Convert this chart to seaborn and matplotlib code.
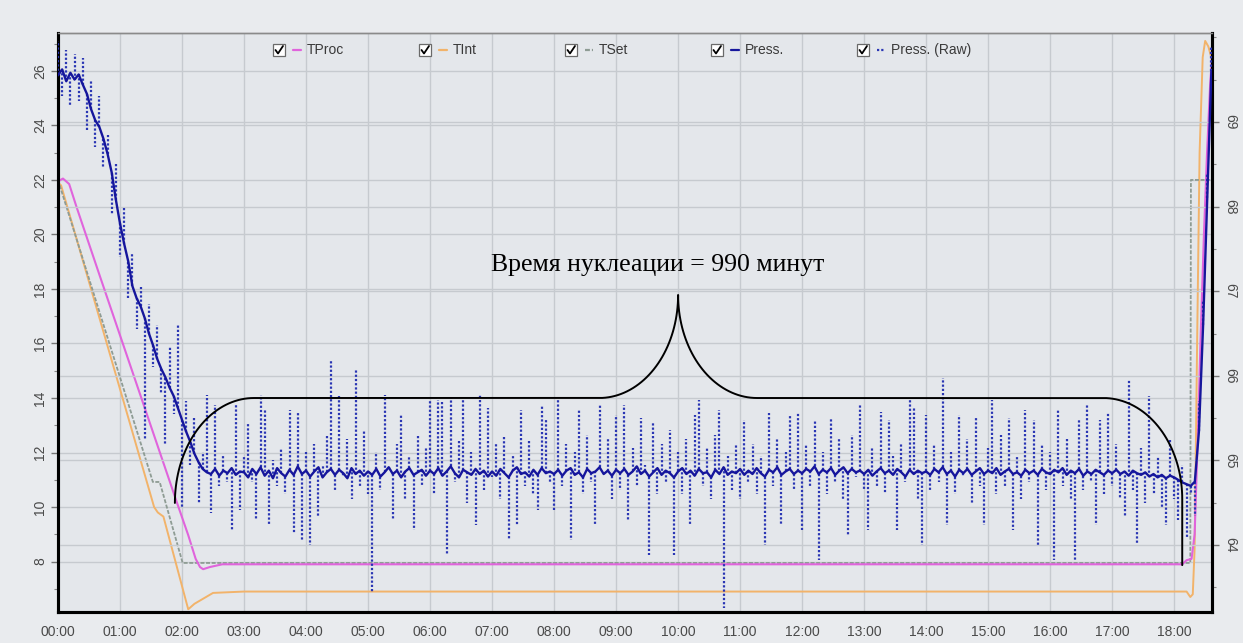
import numpy as np
import pandas as pd
import matplotlib
matplotlib.use("Agg")
import matplotlib.pyplot as plt
from matplotlib.lines import Line2D
from matplotlib.patches import Rectangle
from matplotlib.ticker import MultipleLocator, FixedLocator, FixedFormatter
import seaborn as sns

# ---------------------------------------------------------------- data
TIME_TICKS_H = list(range(0, 19))
TIME_LABELS = ["00:00", "01:00", "02:00", "03:00", "04:00", "05:00", "06:00",
               "07:00", "08:00", "09:00", "10:00", "11:00", "12:00", "13:00",
               "14:00", "15:00", "16:00", "17:00", "18:00"]
PRESS_TICKS = [64, 65, 66, 67, 68, 69]

# temperatures (left axis), break points of each trace: hours / value
TPROC_T = [0.0, 0.08, 0.18, 0.30, 0.68, 1.92, 2.10, 2.22, 2.29, 2.34, 2.45, 2.65,
           18.13, 18.20, 18.28, 18.33, 18.38, 18.43, 18.48, 18.53, 18.58, 18.61]
TPROC_V = [21.95, 22.05, 21.85, 21.0, 18.44, 10.15, 8.97, 8.1, 7.8, 7.72, 7.8, 7.9,
           7.9, 8.05, 8.1, 9.0, 12.5, 16.5, 20.0, 23.0, 25.5, 26.5]

TINT_T = [0.0, 0.05, 1.55, 1.61, 1.70, 2.10, 2.20, 2.50, 3.0, 18.20, 18.26, 18.30,
          18.33, 18.37, 18.41, 18.46, 18.50, 18.55, 18.61]
TINT_V = [21.9, 21.8, 10.0, 9.8, 9.65, 6.25, 6.45, 6.85, 6.9, 6.9, 6.7, 6.8,
          8.5, 16.0, 23.0, 26.5, 27.1, 26.9, 26.4]

TSET_T = [0.0, 1.53, 1.64, 2.01, 18.26, 18.27, 18.61]
TSET_V = [22.0, 10.92, 10.92, 7.95, 7.95, 22.0, 22.0]

# chamber pressure (right axis), one value every 4 minutes
PRESS_STEP_MIN = 4
PRESS = [
    69.55, 69.62, 69.48, 69.58, 69.50, 69.56, 69.44, 69.33, 69.15, 69.02, 68.94, 68.80, 68.62, 68.40, 68.08,
    67.80, 67.56, 67.35, 67.06, 66.92, 66.82, 66.68, 66.50, 66.36, 66.20, 66.08, 65.98, 65.86, 65.76, 65.62,
    65.48, 65.34, 65.22, 65.08, 64.98, 64.90, 64.86, 64.84, 64.90, 64.82, 64.88, 64.85, 64.91, 64.83, 64.87,
    64.86, 64.80, 64.90, 64.84, 64.92, 64.82, 64.88, 64.79, 64.91, 64.85, 64.81, 64.89, 64.83, 64.93, 64.84,
    64.88, 64.81, 64.87, 64.92, 64.80, 64.86, 64.90, 64.83, 64.89, 64.85, 64.79, 64.91, 64.84, 64.88, 64.82,
    64.87, 64.83, 64.90, 64.81, 64.86, 64.92, 64.84, 64.88, 64.80, 64.87, 64.91, 64.83, 64.86, 64.89, 64.82,
    64.88, 64.84, 64.91, 64.82, 64.87, 64.93, 64.85, 64.80, 64.89, 64.86, 64.83, 64.90, 64.84, 64.88, 64.81,
    64.87, 64.82, 64.90, 64.85, 64.80, 64.88, 64.92, 64.84, 64.86, 64.81, 64.89, 64.83, 64.91, 64.85, 64.87,
    64.84, 64.89, 64.82, 64.88, 64.91, 64.83, 64.86, 64.80, 64.90, 64.85, 64.87, 64.92, 64.84, 64.88, 64.82,
    64.89, 64.85, 64.90, 64.83, 64.87, 64.93, 64.84, 64.88, 64.81, 64.86, 64.91, 64.83, 64.88, 64.85, 64.80,
    64.87, 64.91, 64.84, 64.88, 64.82, 64.90, 64.85, 64.86, 64.80, 64.89, 64.84, 64.92, 64.83, 64.87, 64.85,
    64.90, 64.83, 64.88, 64.84, 64.91, 64.85, 64.81, 64.89, 64.86, 64.92, 64.83, 64.87, 64.90, 64.84, 64.88,
    64.85, 64.90, 64.87, 64.93, 64.84, 64.89, 64.86, 64.91, 64.83, 64.88, 64.92, 64.85, 64.90, 64.86, 64.88,
    64.84, 64.89, 64.82, 64.87, 64.91, 64.85, 64.88, 64.83, 64.90, 64.86, 64.81, 64.89, 64.84, 64.88, 64.85,
    64.87, 64.83, 64.90, 64.86, 64.92, 64.84, 64.88, 64.81, 64.89, 64.85, 64.90, 64.83, 64.87, 64.91, 64.84,
    64.88, 64.85, 64.91, 64.83, 64.87, 64.90, 64.84, 64.86, 64.82, 64.89, 64.85, 64.88, 64.83, 64.90, 64.86,
    64.84, 64.89, 64.86, 64.91, 64.83, 64.88, 64.85, 64.90, 64.82, 64.87, 64.84, 64.89, 64.86, 64.83, 64.88,
    64.85, 64.89, 64.84, 64.87, 64.82, 64.88, 64.85, 64.83, 64.86, 64.81, 64.84, 64.80, 64.83, 64.79, 64.82,
    64.80, 64.77, 64.74, 64.72, 64.70, 64.75, 65.35, 66.60, 68.10, 69.60,
]
PRESS_RAW = [
    69.95, 69.30, 69.85, 69.20, 69.80, 69.25, 69.75, 68.90, 69.50, 68.70, 69.30, 68.45, 68.85, 67.90, 68.50,
    67.40, 68.00, 66.90, 67.45, 66.55, 67.05, 65.24, 66.85, 66.10, 66.60, 65.80, 65.18, 66.35, 65.55, 66.60,
    64.45, 65.70, 64.95, 65.51, 64.50, 65.10, 65.77, 64.38, 65.65, 64.70, 65.05, 64.75, 64.18, 65.65, 64.41,
    65.05, 65.44, 64.75, 64.30, 65.77, 65.60, 64.24, 65.00, 64.70, 65.15, 64.60, 65.60, 64.14, 65.57, 64.06,
    65.10, 64.00, 65.20, 64.35, 64.95, 65.30, 66.19, 64.65, 65.77, 64.80, 65.25, 64.55, 66.07, 64.70, 65.35,
    64.60, 63.43, 65.10, 64.65, 65.77, 64.90, 64.30, 65.20, 65.54, 64.55, 65.05, 64.18, 65.30, 64.70, 65.15,
    65.71, 64.60, 65.71, 65.71, 63.88, 65.74, 64.75, 65.25, 65.71, 64.50, 65.10, 64.24, 65.77, 64.65, 65.62,
    64.80, 65.20, 64.55, 65.30, 64.06, 65.05, 64.24, 65.60, 64.70, 65.25, 64.60, 64.41, 65.65, 65.48, 64.75,
    64.41, 65.71, 64.70, 65.20, 64.06, 65.10, 65.60, 64.60, 65.30, 64.75, 64.24, 65.65, 64.85, 65.25, 64.55,
    65.54, 64.65, 65.65, 64.30, 65.15, 64.70, 65.50, 64.95, 63.88, 65.44, 64.60, 65.20, 64.75, 65.36, 63.88,
    65.10, 64.60, 65.25, 64.24, 65.54, 65.71, 64.70, 65.15, 64.55, 65.30, 65.60, 63.26, 65.05, 64.65, 65.20,
    64.55, 65.48, 64.75, 65.20, 64.60, 65.05, 64.00, 65.56, 64.70, 65.25, 64.24, 65.10, 65.54, 64.65, 65.57,
    64.18, 65.20, 64.70, 65.48, 63.82, 65.10, 64.60, 65.50, 64.75, 65.25, 64.55, 64.12, 65.30, 64.80, 65.65,
    64.65, 64.18, 65.15, 64.70, 65.57, 64.60, 65.48, 65.05, 64.18, 65.20, 64.75, 65.71, 65.63, 64.55, 64.00,
    65.54, 64.65, 65.20, 64.75, 65.97, 64.24, 65.10, 64.60, 65.54, 64.80, 65.25, 64.50, 65.50, 64.70, 64.24,
    65.15, 65.71, 64.60, 65.30, 64.70, 65.50, 64.18, 65.05, 64.55, 65.60, 64.75, 65.48, 64.00, 65.20, 64.65,
    65.10, 63.82, 65.60, 64.70, 65.25, 64.55, 63.82, 65.48, 64.65, 65.65, 64.75, 64.24, 65.48, 64.60, 65.57,
    64.70, 65.20, 64.55, 64.33, 65.95, 64.65, 64.02, 65.15, 64.50, 65.76, 64.60, 65.05, 64.45, 64.24, 65.24,
    64.55, 64.30, 64.95, 64.10, 64.60, 64.35, 65.70, 66.90, 68.40, 69.90,
]
assert len(PRESS) == len(PRESS_RAW)

SERIES_NAMES = ["TProc", "TInt", "TSet", "Press.", "Press. (Raw)"]

# nucleation interval bracket (hours, left-axis units)
NUC_START_H, NUC_END_H, NUC_MID_H = 1.885, 18.13, 10.0
NUC_LEVEL, NUC_PEAK, NUC_LEFT_FOOT, NUC_RIGHT_FOOT = 14.0, 17.78, 10.15, 7.87
NUC_TEXT = "Время нуклеации = 990 минут"

# ---------------------------------------------------------------- style
COLORS = {"TProc": "#e064dc", "TInt": "#f2b36a", "TSet": "#8e9c94",
          "Press.": "#16169c", "Press. (Raw)": "#2a36b4"}
STYLES = {"TProc": "-", "TInt": "-", "TSet": (0, (2.2, 0.9)),
          "Press.": "-", "Press. (Raw)": (0, (1.0, 0.9))}
FIG_BG, AX_BG, GRID = "#e9ebee", "#e4e7eb", "#c6cacf"

sns.set_style("white")
plt.rcParams["font.family"] = ["Liberation Sans", "DejaVu Sans"]

W, H = 1243, 643
fig = plt.figure(figsize=(W / 100, H / 100), dpi=100, facecolor=FIG_BG)
ax = fig.add_axes([58 / W, 1 - 612 / H, (1212 - 58) / W, (612 - 33) / H])
ax.set_facecolor(AX_BG)
ax2 = ax.twinx()

tproc = pd.DataFrame({"t": TPROC_T, "v": TPROC_V})
tint = pd.DataFrame({"t": TINT_T, "v": TINT_V})
tset = pd.DataFrame({"t": TSET_T, "v": TSET_V})
press = pd.DataFrame({"t": np.arange(len(PRESS)) * PRESS_STEP_MIN / 60.0,
                      "p": PRESS, "raw": PRESS_RAW})

sns.lineplot(data=tint, x="t", y="v", ax=ax, color=COLORS["TInt"], lw=1.4,
             estimator=None, errorbar=None, zorder=3)
sns.lineplot(data=tset, x="t", y="v", ax=ax, color=COLORS["TSet"], lw=1.3,
             linestyle=STYLES["TSet"], estimator=None, errorbar=None, zorder=4)
sns.lineplot(data=tproc, x="t", y="v", ax=ax, color=COLORS["TProc"], lw=1.5,
             estimator=None, errorbar=None, zorder=5)

# raw readings: each sample is drawn as a dotted excursion from the filtered trace
ax2.vlines(press["t"], press["p"], press["raw"], colors=COLORS["Press. (Raw)"],
           linestyles=[STYLES["Press. (Raw)"]], lw=1.6, zorder=3)
sns.lineplot(data=press, x="t", y="p", ax=ax2, color=COLORS["Press."], lw=1.7,
             estimator=None, errorbar=None, zorder=4)

# ---------------------------------------------------------------- axes
ax.set_xlim(0, 18.61)
ax.set_ylim(6.15, 27.39)
ax2.set_ylim(63.21, 70.05)
for a in (ax, ax2):
    a.set_xlabel("")
    a.set_ylabel("")

ax.xaxis.set_major_locator(FixedLocator(TIME_TICKS_H))
ax.xaxis.set_major_formatter(FixedFormatter(TIME_LABELS))
ax.xaxis.set_minor_locator(MultipleLocator(1 / 6))
ax.yaxis.set_major_locator(MultipleLocator(2))
ax.yaxis.set_minor_locator(MultipleLocator(1))
ax2.yaxis.set_major_locator(FixedLocator(PRESS_TICKS))
ax2.yaxis.set_minor_locator(MultipleLocator(0.5))

ax.grid(True, which="major", color=GRID, lw=1.0)
ax2.grid(True, which="major", axis="y", color=GRID, lw=1.0)
ax.set_axisbelow(True)
ax2.set_axisbelow(True)

tick_kw = dict(labelsize=10, labelcolor="#4a4a4a", color="#777777")
ax.tick_params(axis="x", which="major", length=5, width=1, pad=4, **tick_kw)
ax.tick_params(axis="x", which="minor", length=3, width=0.8, color="#888888")
ax.tick_params(axis="y", which="major", length=5, width=1, pad=3,
               labelrotation=90, **tick_kw)
ax.tick_params(axis="y", which="minor", length=3, width=0.8, color="#888888")
ax2.tick_params(axis="y", which="major", length=5, width=1, pad=3,
                labelrotation=-90, **tick_kw)
ax2.tick_params(axis="y", which="minor", length=3, width=0.8, color="#888888")
for lab in ax.get_yticklabels():
    lab.set_va("center")
for lab in ax2.get_yticklabels():
    lab.set_va("center")

for a in (ax, ax2):
    for side in ("left", "bottom", "right"):
        a.spines[side].set_color("black")
        a.spines[side].set_linewidth(2.2)
    a.spines["top"].set_color("#8a8a8a")
    a.spines["top"].set_linewidth(1.0)

# ---------------------------------------------------------------- bracket
def quarter(cx, cy, rx, ry, a0, a1, n=40):
    th = np.linspace(a0, a1, n)
    return cx + rx * np.cos(th), cy + ry * np.sin(th)

px_h = (1212 - 58) / 18.61          # pixels per hour
px_v = 579 / (27.39 - 6.15)         # pixels per left-axis unit
r_side = 79 / px_h
r_mid = 79 / px_h
ry_left = NUC_LEVEL - NUC_LEFT_FOOT
ry_mid = NUC_PEAK - NUC_LEVEL
ry_right = 101 / px_v

segs = []
segs.append(quarter(NUC_START_H + r_side, NUC_LEFT_FOOT, r_side, ry_left, np.pi, np.pi / 2))
segs.append((np.array([NUC_START_H + r_side, NUC_MID_H - r_mid]), np.array([NUC_LEVEL, NUC_LEVEL])))
segs.append(quarter(NUC_MID_H - r_mid, NUC_PEAK, r_mid, ry_mid, -np.pi / 2, 0))
segs.append(quarter(NUC_MID_H + r_mid, NUC_PEAK, r_mid, ry_mid, np.pi, 3 * np.pi / 2))
segs.append((np.array([NUC_MID_H + r_mid, NUC_END_H - r_side]), np.array([NUC_LEVEL, NUC_LEVEL])))
segs.append(quarter(NUC_END_H - r_side, NUC_LEVEL - ry_right, r_side, ry_right, np.pi / 2, 0))
segs.append((np.array([NUC_END_H, NUC_END_H]), np.array([NUC_LEVEL - ry_right, NUC_RIGHT_FOOT])))
bx = np.concatenate([s[0] for s in segs])
by = np.concatenate([s[1] for s in segs])
ax2.add_line(Line2D(bx, by, color="black", lw=1.4, transform=ax.transData,
                    zorder=10, solid_joinstyle="round"))
ax2.text(NUC_MID_H - 0.33, 18.88, NUC_TEXT, transform=ax.transData,
         ha="center", va="center", fontsize=18.5, color="black",
         family=["Liberation Serif", "DejaVu Serif"], zorder=11)

# ---------------------------------------------------------------- legend row
def fx(px):
    return px / W


def fy(py):
    return 1 - py / H


ly = 50
for i, name in enumerate(SERIES_NAMES):
    x0 = 273 + 146 * i
    fig.patches.append(Rectangle((fx(x0), fy(ly + 6)), fx(12), 12 / H,
                                 transform=fig.transFigure, facecolor="white",
                                 edgecolor="#6a6a6a", lw=0.9, zorder=20))
    fig.lines.append(Line2D([fx(x0 + 2.5), fx(x0 + 5), fx(x0 + 10)],
                            [fy(ly), fy(ly + 3.5), fy(ly - 4)],
                            transform=fig.transFigure, color="black", lw=1.3, zorder=21))
    fig.lines.append(Line2D([fx(x0 + 20), fx(x0 + 28)], [fy(ly), fy(ly)],
                            transform=fig.transFigure, color=COLORS[name],
                            lw=1.6, linestyle=STYLES[name] if name in ("TSet", "Press. (Raw)") else "-",
                            zorder=21))
    fig.text(fx(x0 + 34), fy(ly), name, ha="left", va="center", fontsize=10,
             color="#3a3a3a", zorder=21)

fig.savefig("out.png", dpi=100, facecolor=FIG_BG)
